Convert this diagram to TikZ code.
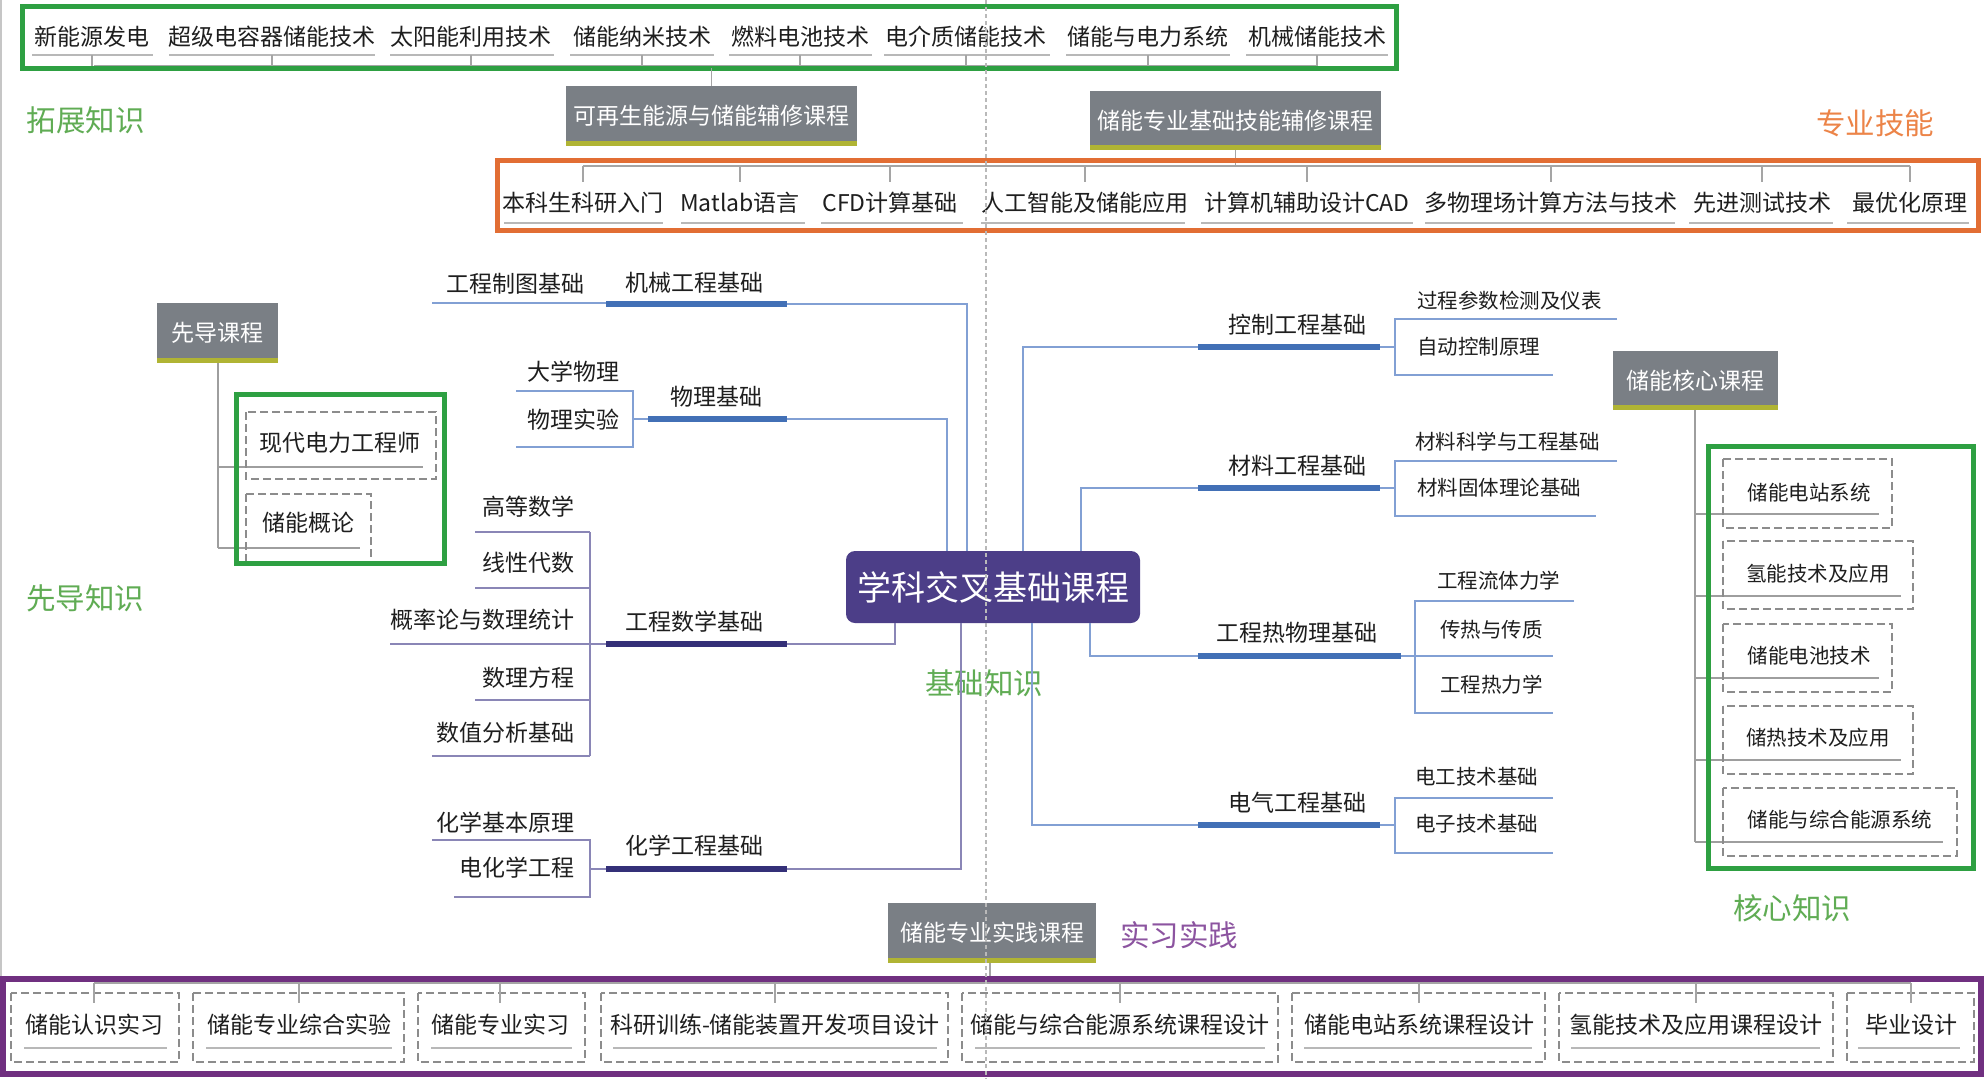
\documentclass[tikz,border=0pt]{standalone}
\usepackage{fontspec}
\setmainfont{Noto Sans CJK SC}
\newcommand\fsz[1]{\fontsize{#1}{#1}\selectfont}
\definecolor{grn}{RGB}{46,160,66}
\definecolor{grnlab}{RGB}{96,172,84}
\definecolor{org}{RGB}{226,110,52}
\definecolor{orglab}{RGB}{236,132,72}
\definecolor{pur}{RGB}{112,48,128}
\definecolor{purlab}{RGB}{140,84,160}
\definecolor{boxgray}{RGB}{122,127,133}
\definecolor{stripec}{RGB}{176,180,52}
\definecolor{hubc}{RGB}{76,62,136}
\definecolor{bbar}{RGB}{66,112,182}
\definecolor{bthin}{RGB}{130,160,212}
\definecolor{nbar}{RGB}{52,48,120}
\definecolor{nthin}{RGB}{138,134,182}
\definecolor{ulgray}{RGB}{184,184,184}
\definecolor{tkgray}{RGB}{165,165,165}
\definecolor{conngray}{RGB}{158,158,158}
\definecolor{dashgray}{RGB}{140,140,140}
\definecolor{txt}{RGB}{30,30,30}
\begin{document}
\begin{tikzpicture}[x=1pt,y=-1pt,
  t23/.style={inner sep=0pt,font=\fsz{23},text=txt},
  t21/.style={inner sep=0pt,font=\fsz{20.5},text=txt},
  lab/.style={inner sep=0pt,font=\fsz{29.5}},
  ul/.style={draw=ulgray,line width=2.6pt},
  tk/.style={draw=tkgray,line width=1.4pt},
  gline/.style={draw=conngray,line width=2pt},
  dbox/.style={draw=dashgray,line width=2.4pt,dash pattern=on 8pt off 4pt},
  frame/.style={line width=5pt},
  course/.style={fill=boxgray,text=white,inner sep=0pt,font=\fsz{23},
    path picture={\fill[stripec] ([yshift=5.5pt]path picture bounding box.south west) rectangle (path picture bounding box.south east);}},
  bbarst/.style={draw=bbar,line width=6pt},
  nbarst/.style={draw=nbar,line width=6pt},
  bth/.style={draw=bthin,line width=2pt},
  nth/.style={draw=nthin,line width=2pt},
  rth/.style={draw=bthin,line width=2pt}
]
\useasboundingbox (0,0) rectangle (1984,1079);
\fill[white] (0,0) rectangle (1984,1079);
\draw[gray!45,line width=1.5pt] (1,0) -- (1,979);

% ---------------- top row: extension courses ----------------
\draw[tk] (94,66) -- (1318,66);
\foreach \t/\c/\a/\b [count=\i] in {新能源发电/92/32/153, 超级电容器储能技术/272/169/375, 太阳能利用技术/471/390/554, 储能纳米技术/642/570/714, 燃料电池技术/800/729/872, 电介质储能技术/966/884/1050, 储能与电力系统/1148/1066/1230, 机械储能技术/1317/1246/1388}{
  \node[t23] (top\i) at (\c,37) {\t};
  \draw[ul] (\a,55) -- (\b,55);
  \draw[tk] (\c,55) -- (\c,66);
}
\draw[grn,frame] (22,6) rectangle (1396,68);
\node[course,minimum width=291pt,minimum height=60pt] (renew) at (711.5,116) {可再生能源与储能辅修课程};
\coordinate (topbus) at (711.5,68);
\draw[tk] (renew.north) -- (topbus);
\node[lab,text=grnlab] (labext) at (86,120) {拓展知识};

% ---------------- professional skills ----------------
\node[course,minimum width=291pt,minimum height=59pt] (skill) at (1235.5,120.5) {储能专业基础技能辅修课程};
\coordinate (skbus) at (1235.5,166);
\draw[tk] (skill.south) -- (skbus);
\draw[tk] (583,166) -- (1910,166);
\foreach \t/\c/\a/\b [count=\i] in {本科生科研入门/583/504/663, Matlab语言/740/681/805, CFD计算基础/890/821/963, 人工智能及储能应用/1085/981/1185, 计算机辅助设计CAD/1307/1201/1413, 多物理场计算方法与技术/1551/1425/1675, 先进测试技术/1762/1689/1833, 最优化原理/1910/1847/1969}{
  \node[t23] (sk\i) at (\c,203) {\t};
  \draw[ul] (\a,223) -- (\b,223);
  \draw[tk] (\c,166) -- (\c,182);
}
\draw[org,frame] (497,160) rectangle (1978,230);
\node[lab,text=orglab] (labskill) at (1875,123) {专业技能};

% ---------------- prerequisite ----------------
\node[course,minimum width=121pt,minimum height=60pt] (pre) at (217.5,333) {先导课程};
\draw[gline] (218,363) -- (218,548);
\draw[gline] (218,467) -- (423,467);
\draw[gline] (218,548) -- (360,548);
\draw[dbox] (246,412) rectangle (436,479);
\draw[dbox] (246,494) -- (371,494) -- (371,562);
\draw[dbox] (246,494) -- (246,562);
\node[t23] (pre1) at (340,443) {现代电力工程师};
\node[t23] (pre2) at (308,523) {储能概论};
\draw[grn,frame] (236,394) rectangle (444,563);
\node[lab,text=grnlab] (labpre) at (85,598) {先导知识};

% ---------------- hub ----------------
\node[fill=hubc,rounded corners=9pt,minimum width=294pt,minimum height=72pt,inner sep=0pt,text=white,font=\fsz{34}] (hub) at (993,587) {学科交叉基础课程};
\node[lab,text=grnlab] (labbase) at (984,683) {基础知识};

% --- 机械工程基础
\node[t23] (mech) at (694,283) {机械工程基础};
\node[t23] (draw1) at (515,284) {工程制图基础};
\draw[bth] (432,303) -- (606,303);
\draw[bth] (787,304) -- (967,304) -- (967,551);
\draw[bbarst] (606,304) -- (787,304);

% --- 物理基础
\node[t23] (phys) at (716,397) {物理基础};
\node[t23] (phys1) at (573,372) {大学物理};
\node[t23] (phys2) at (573,420) {物理实验};
\draw[bth] (516,391) -- (633,391) -- (633,447) -- (516,447);
\draw[bth] (633,419) -- (648,419);
\draw[bth] (787,419) -- (947,419) -- (947,551);
\draw[bbarst] (648,419) -- (787,419);

% --- 工程数学基础
\node[t23] (math) at (694,622) {工程数学基础};
\draw[nth] (590,532) -- (590,756);
\foreach \t/\y/\u/\a [count=\i] in {高等数学/507/532/475, 线性代数/563/588/475, 概率论与数理统计/620/644/390, 数理方程/678/700/475, 数值分析基础/733/756/432}{
  \node[t23,anchor=east] (m\i) at (575,\y) {\t};
  \draw[nth] (\a,\u) -- (590,\u);
}
\draw[nth] (590,644) -- (606,644);
\draw[nth] (787,644) -- (895,644) -- (895,623);
\draw[nbarst] (606,644) -- (787,644);

% --- 化学工程基础
\node[t23] (chem) at (694,846) {化学工程基础};
\node[t23,anchor=east] (c1) at (575,823) {化学基本原理};
\node[t23,anchor=east] (c2) at (575,868) {电化学工程};
\draw[nth] (432,840) -- (590,840) -- (590,897) -- (454,897);
\draw[nth] (590,869) -- (606,869);
\draw[nth] (787,869) -- (961,869) -- (961,623);
\draw[nbarst] (606,869) -- (787,869);

% --- 控制工程基础
\node[t23] (ctrl) at (1297,325) {控制工程基础};
\node[t21,anchor=west] (ct1) at (1417,301) {过程参数检测及仪表};
\node[t21,anchor=west] (ct2) at (1417,347) {自动控制原理};
\draw[rth] (1023,551) -- (1023,347) -- (1198,347);
\draw[rth] (1380,347) -- (1395,347);
\draw[rth] (1617,319) -- (1395,319) -- (1395,375) -- (1553,375);
\draw[bbarst] (1198,347) -- (1380,347);

% --- 材料工程基础
\node[t23] (matl) at (1297,466) {材料工程基础};
\node[t21,anchor=west] (mt1) at (1415,442) {材料科学与工程基础};
\node[t21,anchor=west] (mt2) at (1417,488) {材料固体理论基础};
\draw[rth] (1081,551) -- (1081,488) -- (1198,488);
\draw[rth] (1380,488) -- (1395,488);
\draw[rth] (1617,461) -- (1395,461) -- (1395,516) -- (1596,516);
\draw[bbarst] (1198,488) -- (1380,488);

% --- 工程热物理基础
\node[t23] (therm) at (1297,633) {工程热物理基础};
\node[t21,anchor=west] (th1) at (1437,581) {工程流体力学};
\node[t21,anchor=west] (th2) at (1440,630) {传热与传质};
\node[t21,anchor=west] (th3) at (1440,685) {工程热力学};
\draw[rth] (1090,623) -- (1090,656) -- (1198,656);
\draw[rth] (1401,656) -- (1553,656);
\draw[rth] (1574,601) -- (1415,601) -- (1415,713) -- (1553,713);
\draw[bbarst] (1198,656) -- (1401,656);

% --- 电气工程基础
\node[t23] (elec) at (1297,803) {电气工程基础};
\node[t21,anchor=west] (el1) at (1415,777) {电工技术基础};
\node[t21,anchor=west] (el2) at (1415,824) {电子技术基础};
\draw[rth] (1032,623) -- (1032,825) -- (1198,825);
\draw[rth] (1380,825) -- (1395,825);
\draw[rth] (1553,798) -- (1395,798) -- (1395,853) -- (1553,853);
\draw[bbarst] (1198,825) -- (1380,825);

% ---------------- core ----------------
\node[course,minimum width=165pt,minimum height=59pt] (core) at (1695.5,380.5) {储能核心课程};
\draw[gline] (1695,410) -- (1695,842);
\foreach \t/\c/\y/\X/\ya/\yb/\br/\u [count=\i] in {储能电站系统/1809/493/1892/459/528/514/1879, 氢能技术及应用/1818/574/1913/541/609/596/1901, 储能电池技术/1809/656/1892/624/692/678/1879, 储热技术及应用/1818/738/1913/706/774/760/1901, 储能与综合能源系统/1840/820/1957/788/856/842/1943}{
  \draw[gline] (1695,\br) -- (\u,\br);
  \draw[dbox] (1723,\ya) rectangle (\X,\yb);
  \node[t21] (core\i) at (\c,\y) {\t};
}
\draw[grn,frame] (1708,446) rectangle (1973,868);
\node[lab,text=grnlab] (labcore) at (1792,908) {核心知识};

% ---------------- practice ----------------
\node[course,minimum width=208pt,minimum height=60pt] (prac) at (992,933) {储能专业实践课程};
\node[lab,text=purlab] (labprac) at (1179,935) {实习实践};
\coordinate (pbus) at (990,983);
\draw[tk] (prac.south -| pbus) -- (pbus);
\draw[tk] (94,983) -- (1911,983);
\foreach \t/\c/\x/\X/\a/\b [count=\i] in {储能认识实习/94/11/179/24/167, 储能专业综合实验/299/193/404/206/392, 储能专业实习/500/418/585/431/572, 科研训练-储能装置开发项目设计/775/601/948/613/937, 储能与综合能源系统课程设计/1120/962/1278/975/1265, 储能电站系统课程设计/1419/1292/1545/1304/1532, 氢能技术及应用课程设计/1696/1559/1833/1571/1820, 毕业设计/1911/1847/1974/1858/1960}{
  \draw[dbox] (\x,993) rectangle (\X,1062);
  \node[t23] (pr\i) at (\c,1025) {\t};
  \draw[ul] (\a,1048) -- (\b,1048);
  \draw[tk] (\c,983) -- (\c,1003);
}
\draw[pur,line width=6pt] (3,979) rectangle (1981,1074);

% ---------------- dashed centre line ----------------
\draw[gray!55,line width=1.3pt,dash pattern=on 4pt off 3pt] (986,0) -- (986,1079);
\end{tikzpicture}
\end{document}
